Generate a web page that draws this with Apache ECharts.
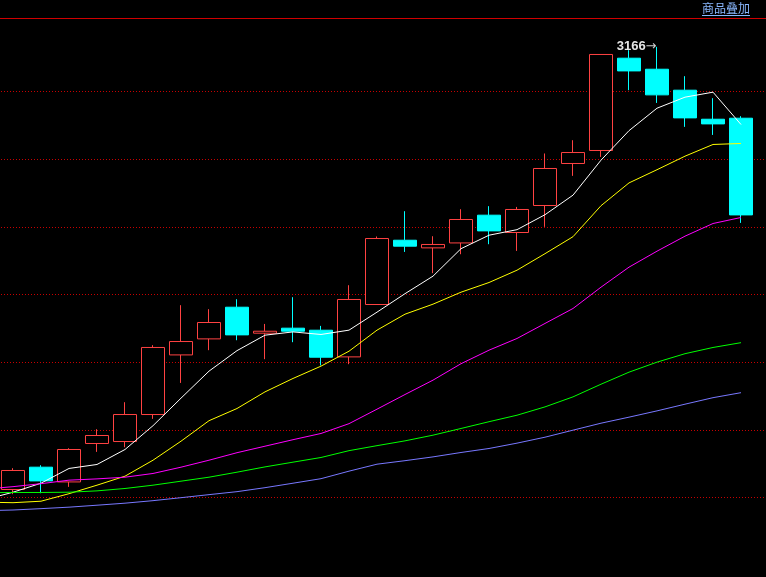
<!DOCTYPE html>
<html><head><meta charset="utf-8">
<script src="https://cdn.jsdelivr.net/npm/echarts@6/dist/echarts.min.js"></script>
<style>html,body{margin:0;padding:0;background:#000;}#c{width:766px;height:577px;}</style>
</head><body><div id="c"></div>
<script>
// one hidden period on the left (only its moving averages show), 27 visible candles, one empty slot on the right
const categories = ['P0','P1','P2','P3','P4','P5','P6','P7','P8','P9','P10','P11','P12','P13','P14','P15','P16','P17','P18','P19','P20','P21','P22','P23','P24','P25','P26','P27','P28'];
const opens  = ['-',2511.8,2544.8,2523.0,2579.8,2582.7,2622.6,2710.7,2734.4,2781.2,2742.8,2750.2,2747.2,2707.8,2785.2,2880.2,2868.9,2876.2,2917.2,2891.6,2931.5,2993.6,3012.8,3149.2,3132.9,3101.9,3059.0,3060.5,'-'];
const closes = ['-',2539.9,2524.5,2570.9,2591.6,2622.6,2721.7,2730.5,2758.6,2740.3,2745.7,2745.7,2707.3,2792.6,2882.7,2871.4,2873.9,2910.8,2894.0,2925.6,2986.2,3009.8,3154.7,3130.4,3095.0,3061.0,3052.1,2917.6,'-'];
const lows   = ['-',2504.9,2506.3,2515.7,2567.4,2574.3,2616.2,2669.3,2717.7,2732.4,2704.4,2729.5,2695.1,2697.0,2784.5,2862.9,2831.5,2859.5,2874.3,2864.4,2899.9,2975.3,3003.3,3101.9,3083.1,3047.7,3035.8,2905.8,'-'];
const highs  = ['-',2543.3,2547.7,2572.8,2600.9,2640.8,2725.1,2784.2,2778.3,2793.0,2756.5,2796.0,2753.6,2813.7,2885.7,2923.1,2886.1,2926.0,2930.5,2929.4,3008.4,3028.0,3155.2,3161.0,3166.0,3122.6,3090.1,3063.5,'-'];

const ma5  = [2496.8,2507.8,2521.1,2542.9,2548.8,2570.9,2606.1,2646.8,2686.7,2717.0,2739.9,2744.7,2740.9,2747.3,2773.9,2801.2,2827.1,2867.7,2887.6,2895.8,2917.9,2946.8,2998.5,3042.1,3075.3,3091.6,3099.0,3051.2,'-'];
const ma10 = [2493.1,2492.3,2494.5,2505.6,2518.2,2531.5,2555.1,2583.2,2613.5,2631.5,2656.1,2675.9,2694.1,2716.2,2747.3,2770.9,2785.7,2803.4,2817.7,2835.9,2860.3,2885.4,2931.2,2964.9,2984.4,3004.4,3021.7,3023.2,'-'];
const ma20 = [2512.3,2516.0,2520.4,2525.6,2527.5,2530.0,2535.5,2544.8,2555.1,2566.2,2575.8,2585.4,2594.6,2609.1,2630.5,2652.2,2673.4,2697.7,2717.7,2735.0,2757.2,2779.3,2810.8,2840.4,2864.0,2886.2,2904.9,2913.8,'-'];
const ma30 = [2507.1,2507.4,2507.4,2507.8,2509.8,2513.3,2518.2,2524.1,2530.0,2537.4,2545.2,2552.2,2559.1,2569.2,2576.6,2583.7,2592.1,2602.0,2612.0,2621.6,2633.9,2648.7,2667.4,2685.2,2700.0,2712.5,2721.7,2728.8,'-'];
const ma60 = [2480.5,2481.5,2483.5,2485.7,2488.6,2491.6,2495.3,2499.7,2504.2,2508.6,2514.5,2521.1,2527.8,2538.9,2549.2,2554.4,2560.0,2566.5,2572.4,2580.3,2589.1,2599.5,2609.8,2618.7,2628.0,2637.9,2647.5,2654.9,'-'];

const gridValues = [2500, 2600, 2700, 2800, 2900, 3000, 3100];
const overlayLabel = '商品叠加';

const candleData = categories.map((c, i) =>
  opens[i] === '-' ? '-' : [opens[i], closes[i], lows[i], highs[i]]);

const chart = echarts.init(document.getElementById('c'), null, {renderer: 'canvas'});

function maSeries(name, data, color) {
  return {
    name, type: 'line', data, symbol: 'none', smooth: false, z: 5,
    lineStyle: {color, width: 1}, silent: true
  };
}

chart.setOption({
  animation: false,
  backgroundColor: '#000',
  grid: {left: -29, width: 812, top: 18, bottom: 0, containLabel: false, outerBoundsMode: 'none'},
  xAxis: {
    type: 'category', data: categories, boundaryGap: true,
    axisLine: {show: false}, axisTick: {show: false}, axisLabel: {show: false}, splitLine: {show: false}
  },
  yAxis: {
    type: 'value', min: 2382.5, max: 3208.6, scale: true,
    axisLine: {show: false}, axisTick: {show: false}, axisLabel: {show: false}, splitLine: {show: false}
  },
  series: [
    {
      name: 'K', type: 'candlestick', data: candleData, barWidth: 23, z: 3,
      itemStyle: {
        color: '#000', color0: '#00ffff',
        borderColor: '#ff4242', borderColor0: '#00ffff', borderWidth: 1
      },
      markLine: {
        silent: true, symbol: ['none', 'none'], z: 1,
        label: {show: false},
        lineStyle: {color: '#c80000', width: 1, type: [1, 2]},
        data: gridValues.map(v => ({yAxis: v}))
      },
      markPoint: {
        symbol: 'circle', symbolSize: 1,
        itemStyle: {color: 'rgba(0,0,0,0)'},
        data: [{type: 'max', valueDim: 'highest'}],
        label: {
          show: true, position: 'left', distance: 0,
          formatter: p => '{a|' + Math.round(p.value) + '}{b|→}',
          rich: {
            a: {color: '#e6e6e6', fontSize: 13, fontFamily: 'Liberation Sans', fontWeight: 'bold'},
            b: {color: '#cccccc', fontSize: 13, fontFamily: 'DejaVu Sans'}
          }
        }
      }
    },
    maSeries('MA5', ma5, '#ffffff'),
    maSeries('MA10', ma10, '#ffff00'),
    maSeries('MA20', ma20, '#ff00ff'),
    maSeries('MA30', ma30, '#00ff00'),
    maSeries('MA60', ma60, '#7878ff')
  ],
  graphic: [
    {type: 'line', shape: {x1: 0, y1: 18.5, x2: 766, y2: 18.5}, style: {stroke: '#d00000', lineWidth: 1}, silent: true},
    {type: 'text', right: 16, top: 2, style: {text: overlayLabel, fill: '#8ab8ff', font: '12px "Noto Sans CJK SC"'}},
    {type: 'line', shape: {x1: 702, y1: 15.5, x2: 750, y2: 15.5}, style: {stroke: '#8ab8ff', lineWidth: 1}, silent: true}
  ]
});
</script></body></html>
